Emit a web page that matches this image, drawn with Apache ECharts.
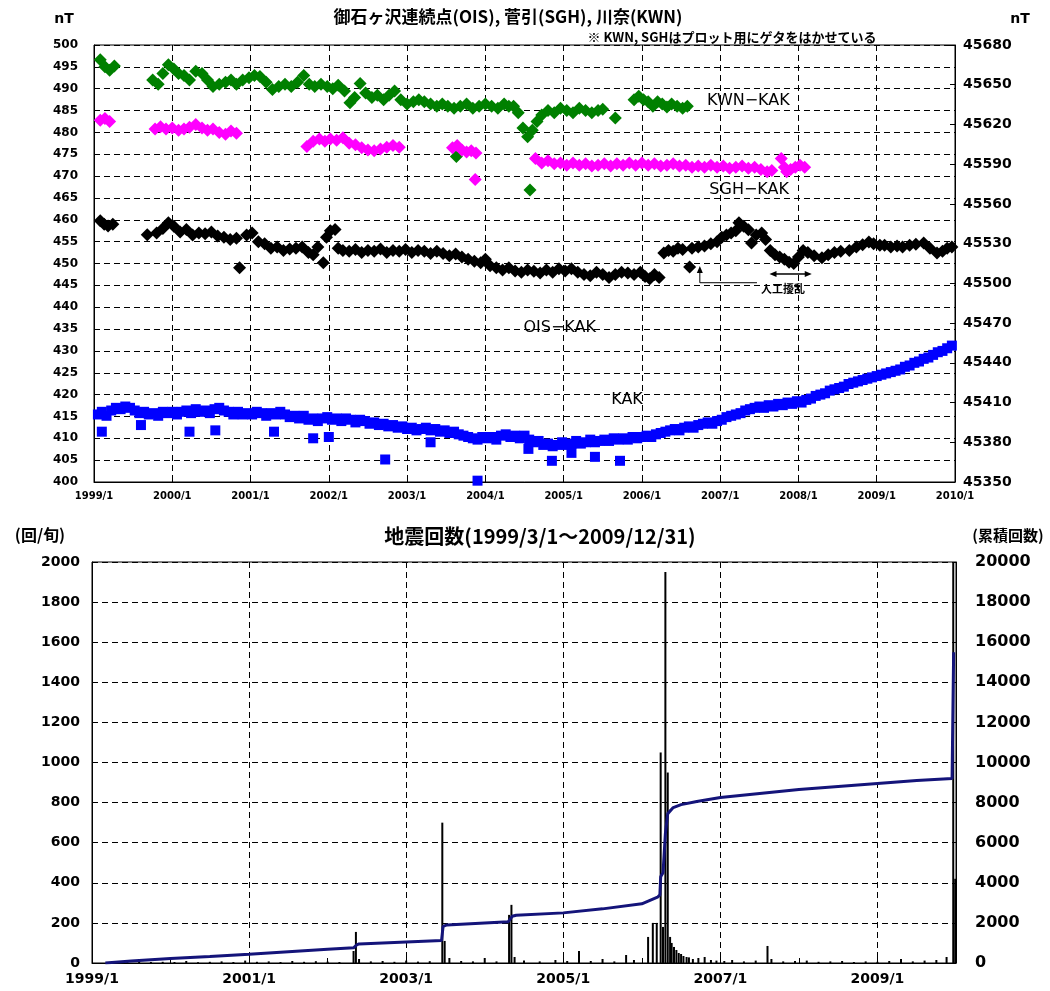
<!DOCTYPE html>
<html><head><meta charset="utf-8">
<script src="https://cdn.jsdelivr.net/npm/echarts@6/dist/echarts.min.js"></script>
<style>html,body{margin:0;padding:0;background:#fff}#c{width:1050px;height:991px}</style>
</head><body><div id="c"></div>
<script>
// ---------- data ----------
const T0 = 1999;      // x origin (year)
const KAK0 = 45350;   // KAK right-axis origin (nT)
const topLeftTicks = [400, 500, 5];
const topRightTicks = [45350, 45680, 30];
const botLeftTicks = [0, 2000, 200];
const botRightTicks = [0, 20000, 2000];

const kwn = [[1999.08,496.6],[1999.14,495.0],[1999.2,494.2],[1999.26,495.2],
[1999.75,492.0],[1999.82,491.0],[1999.88,493.5],[1999.95,495.5],[2000.02,494.5],[2000.08,493.5],[2000.15,493.0],[2000.22,492.0],[2000.3,494.0],[2000.38,493.5],[2000.45,492.0],[2000.52,490.5],[2000.6,491.0],[2000.68,491.5],[2000.75,492.0],[2000.82,491.0],[2000.9,492.0],[2000.98,492.5],
[2001.05,493.0],[2001.12,492.8],[2001.2,491.5],[2001.28,489.8],[2001.36,490.5],[2001.44,491.0],[2001.52,490.5],[2001.6,491.5],[2001.68,493.0],[2001.75,491.0],[2001.82,490.5],[2001.9,491.0],[2001.98,490.5],
[2002.05,490.0],[2002.12,490.8],[2002.2,489.5],[2002.27,486.8],[2002.33,488.0],[2002.4,491.2],[2002.47,489.0],[2002.55,488.0],[2002.62,488.5],[2002.7,487.5],[2002.77,488.5],[2002.84,489.5],[2002.92,487.5],
[2003.0,486.5],[2003.08,487.0],[2003.15,487.5],[2003.22,487.0],[2003.3,486.5],[2003.38,486.0],[2003.45,486.5],[2003.52,486.0],[2003.6,485.5],[2003.63,474.5],[2003.68,486.0],[2003.76,486.5],[2003.84,485.5],[2003.92,486.0],
[2004.0,486.5],[2004.08,486.0],[2004.16,485.5],[2004.24,486.5],[2004.3,486.0],[2004.36,486.0],[2004.42,484.5],[2004.48,481.0],[2004.54,479.0],[2004.57,466.8],[2004.6,480.5],[2004.66,482.5],[2004.72,484.0],[2004.8,485.0],[2004.88,484.5],[2004.96,485.5],
[2005.04,485.0],[2005.12,484.5],[2005.2,485.5],[2005.28,485.0],[2005.36,484.5],[2005.44,485.0],[2005.5,485.3],[2005.66,483.3],
[2005.9,487.5],[2005.96,488.3],[2006.02,487.5],[2006.08,487.0],[2006.14,486.0],[2006.2,487.0],[2006.26,486.5],[2006.32,485.8],[2006.38,486.5],[2006.45,486.0],[2006.52,485.5],[2006.58,486.0]];

const sgh = [[1999.08,482.8],[1999.14,483.2],[1999.2,482.5],
[1999.78,480.8],[1999.85,481.3],[1999.92,480.8],[2000.0,481.0],[2000.08,480.5],[2000.15,480.8],[2000.22,481.2],[2000.3,481.8],[2000.38,481.0],[2000.45,480.5],[2000.52,480.8],[2000.6,480.0],[2000.68,479.6],[2000.75,480.3],[2000.82,479.8],
[2001.72,476.8],[2001.8,478.0],[2001.88,478.5],[2001.95,478.0],[2002.02,478.5],[2002.1,478.2],[2002.18,478.8],[2002.26,477.5],[2002.34,477.2],[2002.42,476.5],[2002.5,476.0],[2002.58,475.8],[2002.66,476.2],[2002.74,476.6],[2002.82,477.0],[2002.9,476.6],
[2003.58,476.5],[2003.64,477.0],[2003.7,476.0],[2003.76,475.5],[2003.82,475.8],[2003.87,469.2],[2003.88,475.3],
[2004.64,474.0],[2004.72,473.0],[2004.8,473.5],[2004.88,472.8],[2004.96,473.0],[2005.04,472.5],[2005.12,473.0],[2005.2,472.5],[2005.28,472.8],[2005.36,472.3],[2005.44,472.5],[2005.52,472.8],[2005.6,472.3],[2005.68,472.8],[2005.76,472.5],[2005.84,473.0],[2005.92,472.5],
[2006.0,473.0],[2006.08,472.5],[2006.16,472.8],[2006.24,472.3],[2006.32,472.5],[2006.4,472.8],[2006.48,472.3],[2006.56,472.5],[2006.64,472.0],[2006.72,472.3],[2006.8,472.0],[2006.88,472.5],[2006.96,472.0],
[2007.04,472.3],[2007.12,471.8],[2007.2,472.0],[2007.28,472.3],[2007.36,471.8],[2007.44,472.0],[2007.52,471.5],[2007.6,471.0],[2007.66,471.3],
[2007.78,474.0],[2007.82,472.0],[2007.85,471.0],[2007.9,471.5],[2007.96,472.0],[2008.02,472.5],[2008.08,472.0]];

const ois = [[1999.08,459.8],[1999.13,459.0],[1999.18,458.6],[1999.24,459.0],
[1999.68,456.6],[1999.8,457.0],[1999.88,458.0],[1999.95,459.3],[2000.02,458.5],[2000.1,457.2],[2000.18,457.8],[2000.26,456.5],[2000.34,457.0],[2000.42,456.8],[2000.5,457.2],[2000.58,456.3],[2000.66,456.0],[2000.74,455.5],[2000.82,455.8],[2000.86,449.0],[2000.95,456.5],
[2001.02,457.0],[2001.1,455.0],[2001.18,454.5],[2001.26,453.5],[2001.34,453.8],[2001.42,453.0],[2001.5,453.3],[2001.58,453.5],[2001.66,453.8],[2001.74,452.5],[2001.8,452.0],[2001.86,453.8],[2001.93,450.2],[2001.97,456.0],
[2002.02,457.5],[2002.08,457.8],[2002.12,453.5],[2002.18,453.0],[2002.26,452.8],[2002.34,453.2],[2002.42,452.5],[2002.5,453.0],[2002.58,452.8],[2002.66,453.3],[2002.74,452.5],[2002.82,453.0],[2002.9,452.8],[2002.98,453.2],
[2003.06,452.5],[2003.14,453.0],[2003.22,452.8],[2003.3,452.3],[2003.38,452.8],[2003.46,452.3],[2003.54,451.8],[2003.62,452.2],[2003.7,451.5],[2003.78,451.0],[2003.86,450.5],[2003.94,450.2],[2004.0,451.0],
[2004.06,449.5],[2004.14,449.0],[2004.22,448.5],[2004.3,449.0],[2004.38,448.3],[2004.46,448.0],[2004.54,448.5],[2004.62,448.2],[2004.7,447.8],[2004.78,448.5],[2004.86,448.0],[2004.94,448.8],
[2005.02,448.3],[2005.1,448.8],[2005.18,448.0],[2005.26,447.5],[2005.34,447.2],[2005.42,448.0],[2005.5,447.5],[2005.58,446.8],[2005.66,447.5],[2005.74,448.0],[2005.82,447.8],[2005.9,447.5],[2005.98,448.0],[2006.04,447.0],[2006.1,446.5],[2006.16,447.5],[2006.22,446.8],
[2006.28,452.4],[2006.34,453.0],[2006.4,452.8],[2006.46,453.5],[2006.52,453.2],[2006.61,449.2],[2006.64,453.5],[2006.72,453.8],[2006.8,454.0],[2006.88,454.5],[2006.96,455.0],
[2007.02,456.0],[2007.08,456.5],[2007.14,457.0],[2007.2,457.5],[2007.24,459.3],[2007.3,458.5],[2007.36,457.7],[2007.4,454.7],[2007.46,456.5],[2007.53,457.0],[2007.58,455.5],[2007.64,453.0],[2007.7,452.0],[2007.76,451.5],[2007.82,451.0],[2007.88,450.3],[2007.94,450.0],
[2008.0,451.5],[2008.06,453.0],[2008.12,452.5],[2008.2,451.8],[2008.3,451.3],[2008.38,452.0],[2008.46,452.5],[2008.54,452.8],[2008.65,453.0],[2008.74,453.8],[2008.82,454.3],[2008.9,454.9],[2008.96,454.5],
[2009.04,454.2],[2009.1,454.2],[2009.18,453.8],[2009.26,454.0],[2009.33,453.8],[2009.42,454.2],[2009.5,454.4],[2009.6,454.7],[2009.68,453.5],[2009.77,452.4],[2009.84,452.8],[2009.9,453.5],[2009.96,453.8]];

const kak = [[1999.05,45401],[1999.1,45403],[1999.16,45400],[1999.22,45404],[1999.28,45406],[1999.34,45405],[1999.4,45407],[1999.46,45406],[1999.52,45404],[1999.58,45402],[1999.64,45403],[1999.7,45401],[1999.76,45402],[1999.82,45400],[1999.88,45403],[1999.94,45402],
[2000.0,45403],[2000.06,45401],[2000.12,45403],[2000.18,45404],[2000.24,45402],[2000.3,45405],[2000.36,45403],[2000.42,45404],[2000.48,45402],[2000.54,45405],[2000.6,45406],[2000.66,45404],[2000.72,45403],[2000.78,45401],[2000.84,45403],[2000.9,45401],[2000.96,45402],
[2001.02,45401],[2001.08,45403],[2001.14,45402],[2001.2,45400],[2001.26,45402],[2001.32,45401],[2001.38,45403],[2001.44,45401],[2001.5,45399],[2001.56,45400],[2001.62,45398],[2001.68,45400],[2001.74,45397],[2001.8,45398],[2001.86,45396],[2001.92,45398],[2001.98,45399],
[2002.04,45397],[2002.1,45398],[2002.16,45396],[2002.22,45398],[2002.28,45397],[2002.34,45395],[2002.4,45397],[2002.46,45396],[2002.52,45394],[2002.58,45395],[2002.64,45393],[2002.7,45394],[2002.76,45392],[2002.82,45393],[2002.88,45391],[2002.94,45392],
[2003.0,45390],[2003.06,45391],[2003.12,45389],[2003.18,45390],[2003.24,45391],[2003.3,45389],[2003.36,45390],[2003.42,45388],[2003.48,45389],[2003.54,45387],[2003.6,45388],[2003.66,45386],[2003.72,45385],[2003.78,45384],[2003.84,45383],[2003.9,45382],[2003.96,45384],
[2004.02,45383],[2004.08,45384],[2004.14,45382],[2004.2,45385],[2004.26,45386],[2004.32,45384],[2004.38,45385],[2004.44,45383],[2004.5,45385],[2004.56,45382],[2004.62,45380],[2004.68,45381],[2004.74,45378],[2004.8,45379],[2004.86,45377],[2004.92,45378],[2004.98,45380],
[2005.04,45378],[2005.1,45379],[2005.16,45381],[2005.22,45379],[2005.28,45380],[2005.34,45382],[2005.4,45380],[2005.46,45381],[2005.52,45382],[2005.58,45381],[2005.64,45383],[2005.7,45382],[2005.76,45383],[2005.82,45382],[2005.88,45384],[2005.94,45383],
[2006.0,45384],[2006.06,45385],[2006.12,45384],[2006.18,45386],[2006.24,45387],[2006.3,45388],[2006.36,45389],[2006.42,45390],[2006.48,45389],[2006.54,45391],[2006.6,45392],[2006.66,45391],[2006.72,45393],[2006.78,45394],[2006.84,45395],[2006.9,45394],[2006.96,45396],
[2007.02,45397],[2007.08,45399],[2007.14,45400],[2007.2,45401],[2007.26,45402],[2007.32,45404],[2007.38,45405],[2007.44,45406],[2007.5,45407],[2007.56,45406],[2007.62,45408],[2007.68,45407],[2007.74,45409],[2007.8,45408],[2007.86,45410],[2007.92,45409],[2007.98,45411],
[2008.04,45410],[2008.1,45412],[2008.16,45413],[2008.22,45415],[2008.28,45416],[2008.34,45417],[2008.4,45419],[2008.46,45420],[2008.52,45421],[2008.58,45422],[2008.64,45424],[2008.7,45425],[2008.76,45426],[2008.82,45427],[2008.88,45428],[2008.94,45429],
[2009.0,45430],[2009.06,45431],[2009.12,45432],[2009.18,45433],[2009.24,45434],[2009.3,45435],[2009.36,45437],[2009.42,45438],[2009.48,45440],[2009.54,45441],[2009.6,45443],[2009.66,45444],[2009.72,45446],[2009.78,45448],[2009.84,45449],[2009.9,45451],[2009.96,45453],
[1999.1,45388],[1999.6,45393],[2000.22,45388],[2000.55,45389],[2001.3,45388],[2001.8,45383],[2002.0,45384],[2002.72,45367],[2003.3,45380],[2003.9,45351],[2004.55,45375],[2004.85,45366],[2005.1,45372],[2005.4,45369],[2005.72,45366]];

// earthquakes per dekad (回/旬)
const quakes = [[1999.3,5],[1999.45,4],[1999.6,8],[1999.75,5],[1999.9,6],[2000.05,5],[2000.2,10],[2000.35,4],[2000.5,6],[2000.65,8],[2000.8,5],[2000.95,12],[2001.1,6],[2001.25,8],[2001.4,5],[2001.55,10],[2001.7,6],[2001.85,9],[2002.0,7],[2002.15,5],
[2002.33,60],[2002.36,155],[2002.4,20],[2002.55,8],[2002.7,10],[2002.85,6],[2003.0,12],[2003.15,7],[2003.3,9],[2003.46,700],[2003.49,110],[2003.55,25],[2003.7,10],[2003.85,8],[2004.0,25],[2004.15,8],[2004.31,240],[2004.34,290],[2004.38,30],[2004.5,12],[2004.7,8],[2004.9,15],
[2005.05,10],[2005.2,60],[2005.35,10],[2005.5,20],[2005.65,8],[2005.8,40],[2005.9,15],[2006.08,130],[2006.14,200],[2006.19,200],[2006.24,1050],[2006.27,180],[2006.30,1950],[2006.33,950],[2006.36,130],[2006.38,100],[2006.41,80],[2006.44,65],[2006.47,50],[2006.5,45],[2006.53,35],[2006.57,30],[2006.6,28],[2006.65,20],[2006.72,25],[2006.8,30],[2006.88,15],[2006.95,12],
[2007.05,10],[2007.15,15],[2007.3,8],[2007.45,12],[2007.6,85],[2007.65,20],[2007.8,8],[2007.95,10],[2008.1,12],[2008.25,6],[2008.4,8],[2008.55,10],[2008.7,5],[2008.85,8],[2009.0,6],[2009.15,10],[2009.3,20],[2009.45,8],[2009.6,12],[2009.75,15],[2009.88,30],[2009.965,2000],[2009.99,420]];

// cumulative count (累積回数)
const cumulative = [[1999.17,0],[1999.5,100],[2000.0,230],[2000.5,330],[2001.0,440],[2001.5,560],[2002.0,680],[2002.33,760],[2002.37,900],[2002.4,950],[2003.0,1050],[2003.45,1120],[2003.47,1830],[2003.52,1900],[2004.0,2000],[2004.3,2060],[2004.35,2330],[2004.4,2380],[2005.0,2500],[2005.5,2700],[2006.0,2950],[2006.2,3280],[2006.23,3400],[2006.24,4300],[2006.27,4500],[2006.3,6450],[2006.33,7450],[2006.4,7750],[2006.5,7900],[2006.7,8050],[2007.0,8250],[2007.5,8450],[2008.0,8650],[2008.5,8800],[2009.0,8950],[2009.5,9100],[2009.95,9200],[2009.97,15500]];

// ---------- chart ----------
const NUM = '"DejaVu Sans", sans-serif';
const LBL = '"DejaVu Sans", sans-serif';
const JP = '"Noto Sans CJK JP", sans-serif';
const dash = {show:true, lineStyle:{color:'#000', type:[6,4], width:1}};
const chart = echarts.init(document.getElementById('c'), null, {renderer:'canvas'});
const shiftX = d => d.map(p => [p[0]-T0, p[1]]);
const plain = v => String(v);

chart.setOption({
  animation:false,
  backgroundColor:'#fff',
  grid:[
    {left:94, top:45, width:861, height:437, show:true, borderColor:'#000', borderWidth:1},
    {left:92, top:562, width:864, height:401, show:true, borderColor:'#000', borderWidth:1}
  ],
  xAxis:[
    {gridIndex:0, type:'value', min:0, max:2010-T0, interval:1,
     axisLine:{lineStyle:{color:'#000'}}, axisTick:{inside:true, length:5, lineStyle:{color:'#000'}},
     axisLabel:{formatter:v => (T0+v)+'/1', fontFamily:NUM, fontWeight:'bold', fontSize:10, color:'#000', margin:9},
     splitLine:dash},
    {gridIndex:1, type:'value', min:0, max:2010-T0, interval:2,
     axisLine:{lineStyle:{color:'#000'}}, axisTick:{inside:true, length:5, lineStyle:{color:'#000'}},
     minorTick:{show:true, splitNumber:2, length:5, lineStyle:{color:'#000'}},
     axisLabel:{formatter:v => (v < 2010-T0 ? (T0+v)+'/1' : ''), fontFamily:NUM, fontWeight:'bold', fontSize:14, color:'#000', margin:9},
     splitLine:dash}
  ],
  yAxis:[
    {gridIndex:0, type:'value', min:topLeftTicks[0], max:topLeftTicks[1], interval:topLeftTicks[2],
     axisLine:{show:true, lineStyle:{color:'#000'}}, axisTick:{show:false},
     axisLabel:{formatter:plain, fontFamily:NUM, fontWeight:'bold', fontSize:12, color:'#000', margin:16},
     splitLine:dash},
    {gridIndex:0, type:'value', position:'right', min:0, max:topRightTicks[1]-KAK0, interval:topRightTicks[2],
     axisLine:{show:true, lineStyle:{color:'#000'}}, axisTick:{show:true, inside:true, length:5, lineStyle:{color:'#000'}},
     axisLabel:{formatter:v => String(KAK0+v), fontFamily:NUM, fontWeight:'bold', fontSize:14, color:'#000', margin:8},
     splitLine:{show:false}},
    {gridIndex:1, type:'value', min:botLeftTicks[0], max:botLeftTicks[1], interval:botLeftTicks[2],
     axisLine:{show:true, lineStyle:{color:'#000'}}, axisTick:{show:false},
     axisLabel:{formatter:plain, fontFamily:NUM, fontWeight:'bold', fontSize:14, color:'#000', margin:12},
     splitLine:dash},
    {gridIndex:1, type:'value', position:'right', min:botRightTicks[0], max:botRightTicks[1], interval:botRightTicks[2],
     axisLine:{show:true, lineStyle:{color:'#000'}}, axisTick:{show:false},
     axisLabel:{formatter:plain, fontFamily:NUM, fontWeight:'bold', fontSize:16, color:'#000', margin:19},
     splitLine:{show:false}}
  ],
  series:[
    {name:'KWN-KAK', type:'scatter', xAxisIndex:0, yAxisIndex:0, symbol:'diamond', symbolSize:13,
     itemStyle:{color:'#008000', opacity:1}, data:shiftX(kwn)},
    {name:'SGH-KAK', type:'scatter', xAxisIndex:0, yAxisIndex:0, symbol:'diamond', symbolSize:13,
     itemStyle:{color:'#ff00ff', opacity:1}, data:shiftX(sgh)},
    {name:'OIS-KAK', type:'scatter', xAxisIndex:0, yAxisIndex:0, symbol:'diamond', symbolSize:13,
     itemStyle:{color:'#000', opacity:1}, data:shiftX(ois)},
    {name:'KAK', type:'scatter', xAxisIndex:0, yAxisIndex:1, symbol:'rect', symbolSize:10,
     itemStyle:{color:'#0000ff', opacity:1}, data:kak.map(p => [p[0]-T0, p[1]-KAK0])},
    {name:'quakes', type:'bar', xAxisIndex:1, yAxisIndex:2, barWidth:2, itemStyle:{color:'#000'},
     data:shiftX(quakes)},
    {name:'cumulative', type:'line', xAxisIndex:1, yAxisIndex:3, showSymbol:false,
     lineStyle:{color:'#14147a', width:3}, itemStyle:{color:'#14147a'}, data:shiftX(cumulative)}
  ]
});

// ---------- annotations ----------
const P = (t, v) => chart.convertToPixel({seriesIndex:2}, [t-T0, v]);
const a0 = P(2006.74, 445.6), a1 = P(2006.74, 449.4), a2 = P(2007.47, 445.6);
const d0 = P(2007.63, 447.6), d1 = P(2008.17, 447.6);
const txt = (x, y, s, font, align) => ({type:'text', x, y, silent:true,
  style:{text:s, font, fill:'#000', textAlign:align || 'center', textVerticalAlign:'middle'}});
const head = (x, y, dir) => {
  let pts;
  if (dir === 'up') pts = [[x, y], [x-3, y+7], [x+3, y+7]];
  else if (dir === 'left') pts = [[x, y], [x+7, y-3], [x+7, y+3]];
  else pts = [[x, y], [x-7, y-3], [x-7, y+3]];
  return {type:'polygon', silent:true, shape:{points:pts}, style:{fill:'#000'}};
};
const lbl = (t, v, s) => { const p = P(t, v); return txt(p[0], p[1], s, '16px ' + LBL); };

chart.setOption({graphic:[
  txt(508, 17, '御石ヶ沢連続点(OIS), 菅引(SGH), 川奈(KWN)', 'bold 17px ' + JP),
  txt(732, 37, '※ KWN, SGHはプロット用にゲタをはかせている', 'bold 13px ' + JP),
  txt(64, 19, 'nT', 'bold 14px ' + NUM),
  txt(1020, 19, 'nT', 'bold 14px ' + NUM),
  txt(540, 536, '地震回数(1999/3/1～2009/12/31)', 'bold 20px ' + JP),
  txt(40, 535, '(回/旬)', 'bold 16px ' + JP),
  txt(1008, 535, '(累積回数)', 'bold 15px ' + JP),
  lbl(2007.36, 487.3, 'KWN−KAK'),
  lbl(2007.37, 466.8, 'SGH−KAK'),
  lbl(2004.95, 435.2, 'OIS−KAK'),
  lbl(2005.81, 418.8, 'KAK'),
  {type:'polyline', silent:true, shape:{points:[[a1[0], a1[1]+6], a0, a2]}, style:{stroke:'#000', lineWidth:1, fill:null}},
  head(a1[0], a1[1], 'up'),
  {type:'line', silent:true, shape:{x1:d0[0]+6, y1:d0[1], x2:d1[0]-6, y2:d1[1]}, style:{stroke:'#000', lineWidth:1.5}},
  head(d0[0], d0[1], 'left'),
  head(d1[0], d1[1], 'right'),
  txt(a2[0] + 4, a2[1] + 6, '人工擾乱', 'bold 11px ' + JP, 'left')
]});
</script>
</body></html>
